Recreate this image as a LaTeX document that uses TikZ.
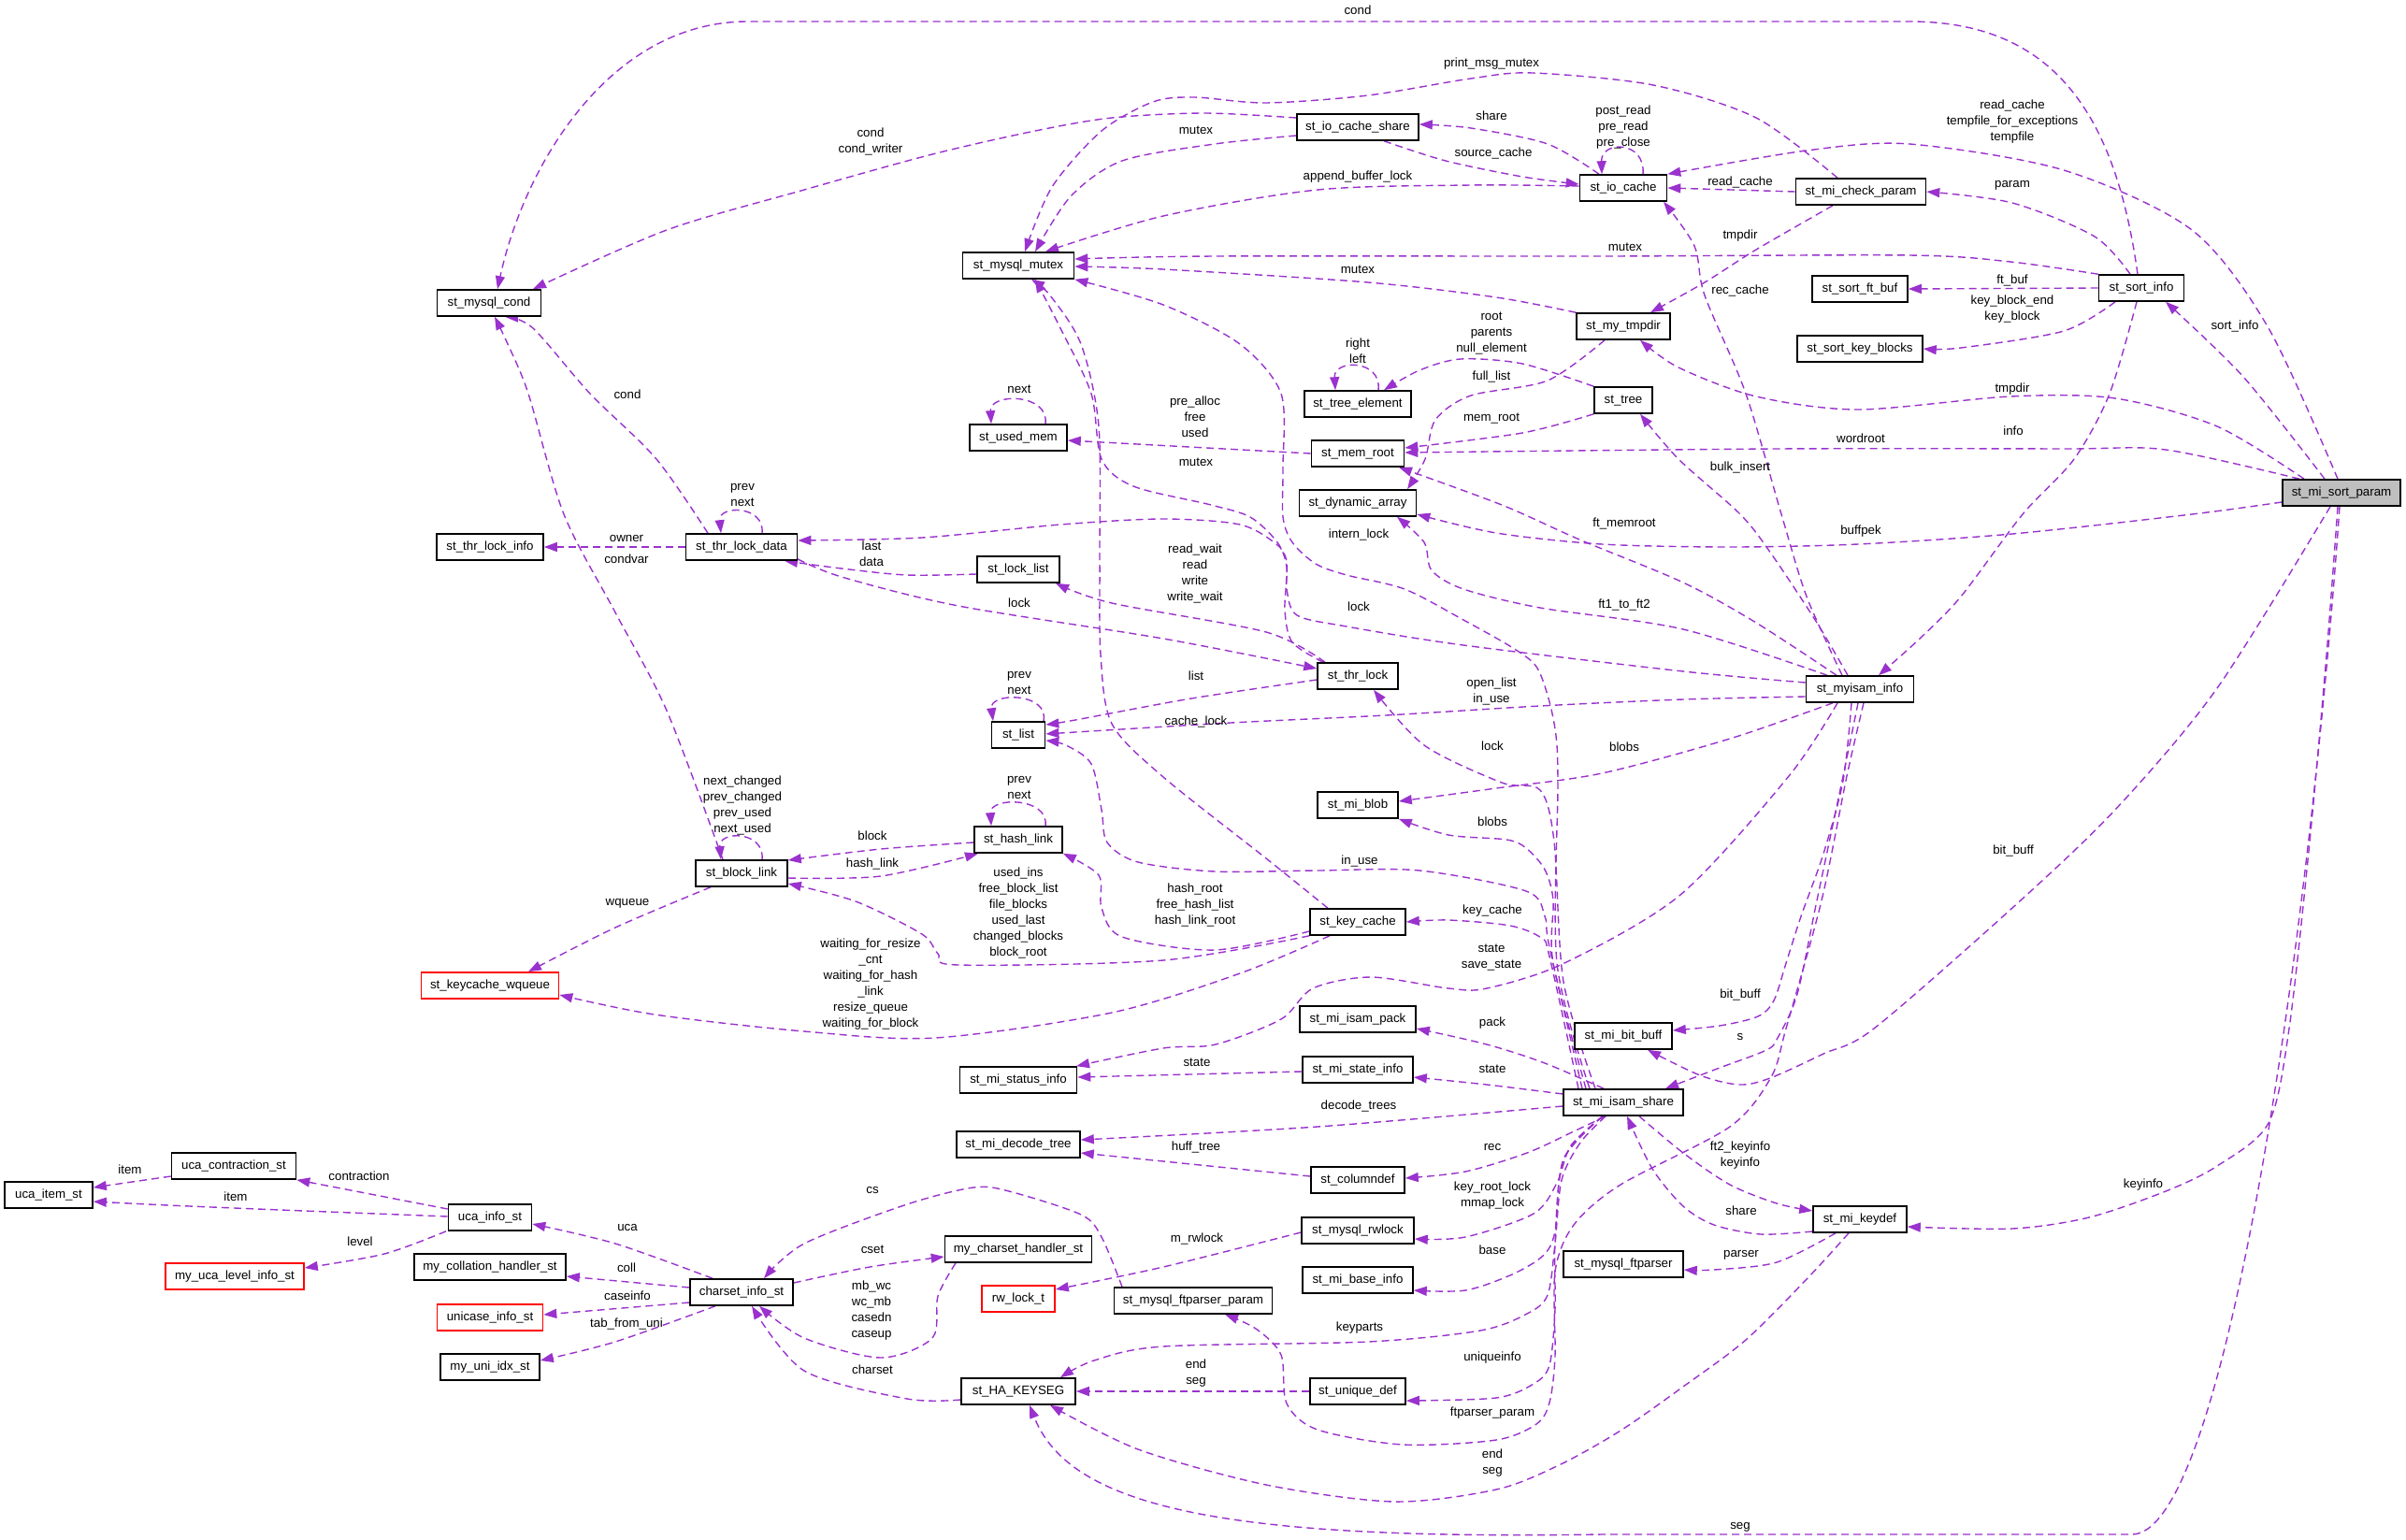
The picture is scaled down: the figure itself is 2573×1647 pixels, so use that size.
\documentclass[tikz,border=0pt]{standalone}
\usepackage{fontspec}
\setmainfont{Liberation Sans}
\usetikzlibrary{arrows.meta}
\definecolor{ec}{HTML}{9A32CD}
\definecolor{gr}{HTML}{BFBFBF}
\newcommand\dgfont{\fontsize{13.3bp}{17bp}\selectfont}
\pgfdeclarelayer{bg}
\pgfsetlayers{bg,main}
\tikzset{
  box/.style={draw=black, line width=1.6bp, fill=white, minimum height=28bp, inner sep=0pt, font=\dgfont, text height=10bp, text depth=3bp},
  redbox/.style={box, draw=red},
  lbl/.style={font=\dgfont, inner sep=0pt, text height=10bp, text depth=3bp},
  mlbl/.style={font=\dgfont, inner sep=0pt, align=center},
  edge/.style={draw=ec, line width=1.4bp, dash pattern=on 8bp off 5bp, -{Triangle[length=14bp,width=10bp]}}
}
\newcommand\dedge[1]{\draw[edge] plot[smooth,tension=0.5] coordinates {#1};}
\begin{document}
\begin{tikzpicture}[x=1bp,y=-1bp]
\path[use as bounding box] (0,0) rectangle (2573,1647);
% nodes
\node[box,fill=gr,minimum width=126bp] (sortparam) at (2504,527) {st\_mi\_sort\_param};
\node[box,minimum width=91bp] (sortinfo) at (2290,308) {st\_sort\_info};
\node[box,minimum width=139bp] (checkparam) at (1990,205) {st\_mi\_check\_param};
\node[box,minimum width=102bp] (sortftbuf) at (1989,309) {st\_sort\_ft\_buf};
\node[box,minimum width=134bp] (sortkeyblocks) at (1989,373) {st\_sort\_key\_blocks};
\node[box,minimum width=93bp] (iocache) at (1736,201) {st\_io\_cache};
\node[box,minimum width=130bp] (iocacheshare) at (1452,136) {st\_io\_cache\_share};
\node[box,minimum width=119bp] (mutex) at (1089,284) {st\_mysql\_mutex};
\node[box,minimum width=111bp] (cond) at (523,324) {st\_mysql\_cond};
\node[box,minimum width=100bp] (tmpdir) at (1736,349) {st\_my\_tmpdir};
\node[box,minimum width=114bp] (treeelem) at (1452,432) {st\_tree\_element};
\node[box,minimum width=62bp] (tree) at (1736,428) {st\_tree};
\node[box,minimum width=104bp] (usedmem) at (1089,468) {st\_used\_mem};
\node[box,minimum width=99bp] (memroot) at (1452,485) {st\_mem\_root};
\node[box,minimum width=125bp] (dynarray) at (1452,538) {st\_dynamic\_array};
\node[box,minimum width=114bp] (thrlockinfo) at (524,585) {st\_thr\_lock\_info};
\node[box,minimum width=119bp] (thrlockdata) at (793,585) {st\_thr\_lock\_data};
\node[box,minimum width=88bp] (locklist) at (1089,609) {st\_lock\_list};
\node[box,minimum width=86bp] (thrlock) at (1452,723) {st\_thr\_lock};
\node[box,minimum width=115bp] (myisaminfo) at (1989,737) {st\_myisam\_info};
\node[box,minimum width=57bp] (stlist) at (1089,786) {st\_list};
\node[box,minimum width=86bp] (miblob) at (1452,861) {st\_mi\_blob};
\node[box,minimum width=94bp] (hashlink) at (1089,898) {st\_hash\_link};
\node[box,minimum width=98bp] (blocklink) at (793,934) {st\_block\_link};
\node[box,minimum width=102bp] (keycache) at (1452,986) {st\_key\_cache};
\node[redbox,minimum width=147bp] (wqueue) at (524,1054) {st\_keycache\_wqueue};
\node[box,minimum width=124bp] (isampack) at (1452,1090) {st\_mi\_isam\_pack};
\node[box,minimum width=104bp] (bitbuff) at (1736,1108) {st\_mi\_bit\_buff};
\node[box,minimum width=125bp] (statusinfo) at (1089,1155) {st\_mi\_status\_info};
\node[box,minimum width=118bp] (stateinfo) at (1452,1144) {st\_mi\_state\_info};
\node[box,minimum width=128bp] (isamshare) at (1736,1179) {st\_mi\_isam\_share};
\node[box,minimum width=132bp] (decodetree) at (1089,1224) {st\_mi\_decode\_tree};
\node[box,minimum width=100bp] (columndef) at (1452,1262) {st\_columndef};
\node[box,minimum width=120bp] (rwlock) at (1452,1316) {st\_mysql\_rwlock};
\node[box,minimum width=157bp] (charsethandler) at (1089,1336) {my\_charset\_handler\_st};
\node[redbox,minimum width=78bp] (rwlockt) at (1089,1389) {rw\_lock\_t};
\node[box,minimum width=169bp] (ftparserparam) at (1276,1391) {st\_mysql\_ftparser\_param};
\node[box,minimum width=118bp] (baseinfo) at (1452,1369) {st\_mi\_base\_info};
\node[box,minimum width=128bp] (ftparser) at (1736,1352) {st\_mysql\_ftparser};
\node[box,minimum width=122bp] (keyseg) at (1089,1488) {st\_HA\_KEYSEG};
\node[box,minimum width=102bp] (uniquedef) at (1452,1488) {st\_unique\_def};
\node[box,minimum width=100bp] (keydef) at (1989,1304) {st\_mi\_keydef};
\node[box,minimum width=133bp] (ucacontraction) at (250,1247) {uca\_contraction\_st};
\node[box,minimum width=94bp] (ucaitem) at (52,1278) {uca\_item\_st};
\node[box,minimum width=89bp] (ucainfo) at (524,1302) {uca\_info\_st};
\node[redbox,minimum width=148bp] (ucalevel) at (251,1365) {my\_uca\_level\_info\_st};
\node[box,minimum width=162bp] (collhandler) at (524,1355) {my\_collation\_handler\_st};
\node[box,minimum width=110bp] (charsetinfo) at (793,1382) {charset\_info\_st};
\node[redbox,minimum width=113bp] (unicase) at (524,1409) {unicase\_info\_st};
\node[box,minimum width=106bp] (uniidx) at (524,1462) {my\_uni\_idx\_st};
% edges
\begin{pgfonlayer}{bg}
\draw[edge] ([xshift=-4bp]sortinfo.north) .. controls (2262,120) and (2195,23) .. (2042,23) -- (800,23) .. controls (650,23) and (560,180) .. ([xshift=9bp]cond.north);
\dedge{([xshift=-4bp]sortparam.north) (2426,351) (2344,246) (2207,182) (2042,154) (1932,161) (iocache.north east)}
\dedge{([xshift=-12bp]sortinfo.north) (2240,253) (2152,217) (checkparam.east)}
\dedge{(sortinfo.north west) (2150,280) (2042,273) (1713,274) (1300,274) ([yshift=7bp]mutex.east)}
\dedge{(tmpdir.north west) (1600,318) (1463,302) (1244,288) ([yshift=-1bp]mutex.east)}
\draw[edge] (sortinfo.west) -- (sortftbuf.east);
\dedge{([xshift=-28bp]sortinfo.south) (2207,354) (2097,372) (sortkeyblocks.east)}
\dedge{([xshift=-18bp]sortparam.north) (2399,403) ([xshift=26bp]sortinfo.south)}
\dedge{([xshift=-40bp]sortparam.north) (2371,456) (2262,426) (2150,424) (1987,438) (1878,424) (1795,393) ([xshift=18bp]tmpdir.south)}
\dedge{([xshift=-30bp]checkparam.south) (1878,267) (1823,302) ([xshift=29bp]tmpdir.north)}
\draw[edge] (checkparam.west) -- (iocache.east);
\dedge{([xshift=-25bp]checkparam.north) (1878,126) (1768,91) (1639,78) (1573,84) (1463,102) (1354,110) (1277,104) (1233,109) (1178,140) (1125,200) ([xshift=7bp]mutex.north)}
\dedge{([yshift=-9bp]iocacheshare.west) (1299,154) (1200,172) (1145,210) ([xshift=18bp]mutex.north)}
\dedge{([yshift=10bp]iocacheshare.west) (1288,121) (1189,126) (1107,140) (997,165) (860,203) (713,246) ([xshift=47bp]cond.north)}
\dedge{([xshift=-26bp]iocache.north) (1655,154) (1573,137) ([yshift=3bp]iocacheshare.east)}
\dedge{([xshift=28bp]iocacheshare.south) (1546,172) (1628,189) ([yshift=4bp]iocache.west)}
\dedge{([yshift=2bp]iocache.west) (1573,198) (1409,203) (1244,231) ([xshift=29bp]mutex.north)}
\draw[edge] ([xshift=21bp]iocache.north) .. controls (1760,150) and (1712,150) .. ([xshift=-23bp]iocache.north);
\dedge{([xshift=-19bp]myisaminfo.north) (1932,638) (1905,550) (1867,421) (1823,316) (1812,263) ([xshift=43bp]iocache.south)}
\draw[edge] ([xshift=22bp]treeelem.north) .. controls (1478,384) and (1426,384) .. ([xshift=-24bp]treeelem.north);
\dedge{(tree.north west) (1628,389) (1562,384) (1518,396) ([xshift=28bp]treeelem.north)}
\dedge{(tree.south west) (1628,463) ([yshift=6bp]memroot.east)}
\dedge{([xshift=-20bp]tmpdir.south) (1655,407) (1573,423) (1535,449) (1524,491) ([xshift=53bp]dynarray.north)}
\draw[edge] ([xshift=29bp]usedmem.north) .. controls (1122,420) and (1058,420) .. ([xshift=-29bp]usedmem.north);
\draw[edge] (memroot.west) -- ([yshift=-3bp]usedmem.east);
\dedge{([xshift=-45bp]sortparam.north) (2316,481) (2207,480) (1900,480) ([yshift=1bp]memroot.east)}
\dedge{([xshift=-5bp]sortinfo.south) (2256,421) (2218,491) (2163,550) (2097,638) (2053,683) ([xshift=20bp]myisaminfo.north)}
\dedge{([yshift=-10bp]sortparam.west) (2344,550) (2152,571) (1987,582) (1850,585) (1713,582) (1600,570) ([yshift=-12bp]dynarray.east)}
\dedge{([xshift=-25bp]myisaminfo.north) (1878,666) (1800,623) (1689,577) (1606,540) ([xshift=44bp]memroot.south)}
\dedge{([xshift=-35bp]myisaminfo.north) (1800,673) (1647,650) (1565,630) (1531,610) (1523,580) ([xshift=42bp]dynarray.south)}
\draw[edge] ([xshift=22bp]thrlockdata.north) .. controls (818,540) and (768,540) .. ([xshift=-22bp]thrlockdata.north);
\dedge{([xshift=-36bp]thrlockdata.north) (702,491) (631,421) (570,351) ([xshift=17bp]cond.south)}
\dedge{([xshift=-20bp]blocklink.north) (713,760) (658,655) (603,550) (565,421) (543,368) ([xshift=6bp]cond.south)}
\draw[edge] (thrlockdata.west) -- (thrlockinfo.east);
\draw[edge] ([xshift=22bp]blocklink.north) .. controls (818,888) and (768,888) .. ([xshift=-22bp]blocklink.north);
\dedge{([xshift=-33bp]blocklink.south) (658,992) ([xshift=41bp]wqueue.north)}
\dedge{([xshift=-30bp]keycache.south) (1326,1041) (1189,1083) (1000,1110) (860,1103) (700,1085) ([yshift=-10bp]wqueue.east)}
\dedge{(keycache.south west) (1244,1027) (1025,1032) (1003,1020) (986,999) (915,964) ([yshift=-11bp]blocklink.east)}
\dedge{([yshift=-10bp]keycache.west) (1299,1016) (1200,1002) (1178,971) (1175,936) (hashlink.south east)}
\draw[edge] ([xshift=29bp]hashlink.north) .. controls (1122,852) and (1058,852) .. ([xshift=-29bp]hashlink.north);
\dedge{([yshift=-3bp]hashlink.west) (942,908) ([yshift=14bp]blocklink.east)}
\dedge{([yshift=-5bp]blocklink.east) (942,937) ([xshift=-43bp]hashlink.south)}
\draw[edge] ([xshift=27bp]stlist.north) .. controls (1122,740) and (1058,740) .. ([xshift=-27bp]stlist.north);
\dedge{([yshift=-4bp]thrlock.west) (1274,747) (1150,770) ([yshift=11bp]stlist.east)}
\dedge{([yshift=-8bp]myisaminfo.west) (1800,748) (1647,755) (1482,765) (1316,773) (1150,783) ([yshift=1bp]stlist.east)}
\dedge{([xshift=-32bp]keycache.north) (1354,918) (1244,831) (1189,774) (1177,700) (1176,600) (1175,456) (1156,368) (1123,316) ([xshift=14bp]mutex.south)}
\dedge{([yshift=7bp]myisaminfo.west) (1800,718) (1565,690) (1440,670) (1387,658) (1376,630) (1376,600) (1365,582) (1326,561) (1244,555) (1134,561) (986,575) ([yshift=7bp]thrlockdata.east)}
\dedge{([yshift=-13bp]thrlockdata.east) (900,617) (1025,648) (1244,683) ([yshift=8bp]thrlock.west)}
\dedge{([yshift=-5bp]locklist.west) (970,615) (900,608) ([xshift=46bp]thrlockdata.south)}
\dedge{([xshift=-35bp]thrlock.north) (1354,676) (1189,645) ([xshift=40bp]locklist.south)}
\dedge{([xshift=-37bp]thrlock.north) (1382,687) (1374,653) (1376,607) (1366,580) (1337,553) (1295,540) (1212,520) (1178,491) (1167,421) (1134,351) ([xshift=18bp]mutex.south)}
\dedge{([xshift=-36bp]isamshare.north) (1665,1030) (1666,840) (1664,787) (1656,747) (1643,713) (1618,693) (1565,663) (1502,630) (1440,615) (1407,603) (1382,580) (1372,553) (1372,500) (1370,421) (1326,368) (1244,326) (mutex.south east)}
\dedge{([xshift=-30bp]isamshare.north) (1672,1050) (1662,900) (1647,845) (1606,837) (1523,797) ([xshift=17bp]thrlock.south)}
\dedge{([xshift=-29bp]myisaminfo.south) (1850,790) (1713,827) (1600,843) ([yshift=4bp]miblob.east)}
\dedge{([xshift=-40bp]isamshare.north) (1661,1030) (1661,963) (1652,930) (1632,907) (1611,898) (1549,893) (miblob.south east)}
\dedge{([xshift=-44bp]isamshare.north) (1657,1013) (1652,980) (1632,953) (1518,931) (1409,931) (1299,932) (1217,922) (1184,901) (1178,866) (1167,817) (1140,797) ([yshift=-6bp]stlist.east)}
\dedge{([xshift=-48bp]isamshare.north) (1657,1023) (1648,1003) (1615,990) (1549,984) (keycache.east)}
\dedge{([xshift=-24bp]myisaminfo.south) (1913,830) (1797,957) (1673,1030) (1590,1057) (1549,1057) (1466,1045) (1404,1057) (1370,1090) (1300,1117) (1244,1121) ([xshift=62bp]statusinfo.north)}
\dedge{([xshift=-21bp]isamshare.north) (1652,1137) (1590,1117) ([yshift=-10bp]isampack.east)}
\dedge{([yshift=9bp]isamshare.west) (1590,1160) ([yshift=-8bp]stateinfo.east)}
\dedge{([yshift=-4bp]isamshare.west) (1409,1205) ([yshift=5bp]decodetree.east)}
\dedge{([xshift=-9bp]myisaminfo.south) (1971,835) (1950,913) (1926,980) (1910,1030) (1897,1070) (1880,1087) (1839,1097) ([yshift=6bp]bitbuff.east)}
\dedge{([xshift=-12bp]sortparam.south) (2371,736) (2262,866) (2152,971) (2004,1100) (1950,1127) (1893,1153) (1860,1160) (1818,1150) ([xshift=26bp]bitbuff.south)}
\dedge{([xshift=-2bp]myisaminfo.south) (1971,830) (1943,963) (1922,1063) (1901,1110) (1889,1123) (1839,1142) ([xshift=45bp]isamshare.north)}
\dedge{([xshift=4bp]myisaminfo.south) (1975,830) (1948,963) (1910,1100) (1894,1152) (1850,1205) (1733,1267) (1683,1310) (1663,1360) (1663,1450) (1657,1500) (1643,1523) (1600,1540) (1500,1545) (1409,1529) (1376,1501) (1370,1449) (1343,1421) ([xshift=34bp]ftparserparam.south)}
\dedge{([xshift=-19bp]isamshare.south) (1690,1222) (1670,1262) (1663,1330) (1655,1385) (1633,1405) (1583,1423) (1463,1435) (1244,1440) (1170,1455) ([xshift=45bp]keyseg.north)}
\dedge{([xshift=-19bp]isamshare.south) (1683,1210) (1633,1233) (1567,1253) ([yshift=2bp]columndef.east)}
\dedge{([xshift=-22bp]isamshare.south) (1680,1225) (1665,1265) (1640,1298) (1567,1323) ([yshift=-9bp]rwlock.east)}
\dedge{([xshift=-22bp]isamshare.south) (1672,1240) (1663,1317) (1650,1343) (1617,1363) (1567,1380) ([yshift=-11bp]baseinfo.east)}
\dedge{([xshift=-22bp]isamshare.south) (1672,1240) (1663,1330) (1663,1400) (1657,1460) (1640,1480) (1600,1495) ([yshift=-10bp]uniquedef.east)}
\dedge{([yshift=-13bp]keydef.west) (1883,1320) (1833,1310) (1800,1290) (1767,1250) ([xshift=4bp]isamshare.south)}
\dedge{([xshift=17bp]isamshare.south) (1800,1233) (1850,1267) (1900,1287) ([yshift=9bp]keydef.west)}
\dedge{([xshift=-26bp]keydef.south) (1900,1350) (1833,1358) ([yshift=-6bp]ftparser.east)}
\dedge{([xshift=-4bp]sortparam.south) (2488,700) (2470,900) (2448,1100) (2426,1201) (2371,1247) (2316,1274) (2234,1302) (2152,1314) ([yshift=-8bp]keydef.east)}
\draw[edge] ([xshift=-2bp]sortparam.south) .. controls (2470,1000) and (2380,1641) .. (2280,1641) -- (1713,1641) .. controls (1320,1647) and (1145,1615) .. ([xshift=12bp]keyseg.south);
\dedge{([xshift=-12bp]keydef.south) (1933,1367) (1867,1433) (1800,1483) (1733,1530) (1667,1567) (1600,1593) (1491,1606) (1354,1588) (1217,1550) ([xshift=34bp]keyseg.south)}
\draw[edge] (uniquedef.west) -- (keyseg.east);
\draw[edge] ([yshift=4bp]columndef.west) -- ([yshift=-9bp]decodetree.east);
\dedge{([yshift=-2bp]rwlock.west) (1244,1355) ([yshift=10bp]rwlockt.east)}
\draw[edge] ([yshift=-2bp]stateinfo.west) -- ([yshift=3bp]statusinfo.east);
\dedge{([xshift=-76bp]ftparserparam.north) (1178,1323) (1156,1299) (1079,1274) (1041,1270) (970,1288) (860,1330) ([xshift=24bp]charsetinfo.north)}
\dedge{([yshift=10bp]charsetinfo.east) (930,1355) ([yshift=-8bp]charsethandler.west)}
\dedge{([xshift=-67bp]charsethandler.south) (1003,1386) (997,1431) (942,1452) (860,1431) ([xshift=19bp]charsetinfo.south)}
\dedge{([yshift=-9bp]keyseg.west) (970,1496) (860,1466) ([xshift=11bp]charsetinfo.south)}
\dedge{([xshift=-31bp]charsetinfo.north) (658,1330) ([yshift=-7bp]ucainfo.east)}
\draw[edge] ([yshift=5bp]charsetinfo.west) -- ([yshift=-10bp]collhandler.east);
\draw[edge] ([yshift=-11bp]charsetinfo.west) -- ([yshift=3bp]unicase.east);
\dedge{([xshift=-28bp]charsetinfo.south) (658,1435) ([yshift=7bp]uniidx.east)}
\draw[edge] ([yshift=9bp]ucainfo.west) -- (ucacontraction.south east);
\dedge{([yshift=1bp]ucainfo.west) (300,1294) (180,1289) ([yshift=-7bp]ucaitem.east)}
\draw[edge] ([yshift=-11bp]ucacontraction.west) -- ([yshift=8bp]ucaitem.east);
\dedge{([xshift=-47bp]ucainfo.south) (411,1341) ([yshift=9bp]ucalevel.east)}
\dedge{([xshift=-13bp]myisaminfo.north) (1943,666) (1894,592) (1861,550) (1795,491) ([xshift=18bp]tree.south)}
\end{pgfonlayer}
% labels
\node[lbl] (l1) at (1452,12) {cond};
\node[mlbl] (l2) at (2152,130) {read\_cache\\tempfile\_for\_exceptions\\tempfile};
\node[lbl] (l3) at (2152,197) {param};
\node[lbl] (l4) at (1738,265) {mutex};
\node[lbl] (l5) at (1452,289) {mutex};
\node[lbl] (l6) at (2152,300) {ft\_buf};
\node[mlbl] (l7) at (2152,331) {key\_block\_end\\key\_block};
\node[lbl] (l8) at (2390,349) {sort\_info};
\node[lbl] (l9) at (2152,416) {tmpdir};
\node[lbl] (l10) at (1861,252) {tmpdir};
\node[lbl] (l11) at (1861,195) {read\_cache};
\node[lbl] (l12) at (1595,68) {print\_msg\_mutex};
\node[lbl] (l13) at (1279,140) {mutex};
\node[mlbl] (l14) at (931,152) {cond\\cond\_writer};
\node[lbl] (l15) at (1595,125) {share};
\node[lbl] (l16) at (1597,164) {source\_cache};
\node[lbl] (l17) at (1452,189) {append\_buffer\_lock};
\node[mlbl] (l18) at (1736,136) {post\_read\\pre\_read\\pre\_close};
\node[lbl] (l19) at (1861,311) {rec\_cache};
\node[mlbl] (l20) at (1452,375) {right\\left};
\node[mlbl] (l21) at (1595,357) {root\\parents\\null\_element};
\node[lbl] (l22) at (1595,447) {mem\_root};
\node[lbl] (l23) at (1595,403) {full\_list};
\node[lbl] (l24) at (1090,417) {next};
\node[mlbl] (l25) at (1278,446) {pre\_alloc\\free\\used};
\node[lbl] (l26) at (1990,470) {wordroot};
\node[lbl] (l27) at (2153,462) {info};
\node[lbl] (l28) at (1990,568) {buffpek};
\node[lbl] (l29) at (1737,560) {ft\_memroot};
\node[lbl] (l30) at (1737,647) {ft1\_to\_ft2};
\node[mlbl] (l31) at (794,529) {prev\\next};
\node[lbl] (l32) at (671,423) {cond};
\node[lbl] (l33) at (670,599) {condvar};
\node[lbl] (l34) at (670,576) {owner};
\node[mlbl] (l35) at (794,861) {next\_changed\\prev\_changed\\prev\_used\\next\_used};
\node[lbl] (l36) at (671,965) {wqueue};
\node[mlbl] (l37) at (931,1053) {waiting\_for\_resize\\\_cnt\\waiting\_for\_hash\\\_link\\resize\_queue\\waiting\_for\_block};
\node[mlbl] (l38) at (1089,976) {used\_ins\\free\_block\_list\\file\_blocks\\used\_last\\changed\_blocks\\block\_root};
\node[mlbl] (l39) at (1278,968) {hash\_root\\free\_hash\_list\\hash\_link\_root};
\node[mlbl] (l40) at (1090,842) {prev\\next};
\node[lbl] (l41) at (933,895) {block};
\node[lbl] (l42) at (933,924) {hash\_link};
\node[mlbl] (l43) at (1090,730) {prev\\next};
\node[lbl] (l44) at (1279,724) {list};
\node[mlbl] (l45) at (1595,739) {open\_list\\in\_use};
\node[lbl] (l46) at (1279,772) {cache\_lock};
\node[lbl] (l47) at (1453,650) {lock};
\node[lbl] (l48) at (1090,646) {lock};
\node[mlbl] (l49) at (932,592) {last\\data};
\node[mlbl] (l50) at (1278,613) {read\_wait\\read\\write\\write\_wait};
\node[lbl] (l51) at (1279,495) {mutex};
\node[lbl] (l52) at (1453,572) {intern\_lock};
\node[lbl] (l53) at (1596,799) {lock};
\node[lbl] (l54) at (1737,800) {blobs};
\node[lbl] (l55) at (1596,880) {blobs};
\node[lbl] (l56) at (1454,921) {in\_use};
\node[lbl] (l57) at (1596,974) {key\_cache};
\node[mlbl] (l58) at (1595,1024) {state\\save\_state};
\node[lbl] (l59) at (1596,1094) {pack};
\node[lbl] (l60) at (1596,1144) {state};
\node[lbl] (l61) at (1453,1183) {decode\_trees};
\node[lbl] (l62) at (1861,1064) {bit\_buff};
\node[lbl] (l63) at (2153,910) {bit\_buff};
\node[lbl] (l64) at (1861,1109) {s};
\node[lbl] (l65) at (1596,1511) {ftparser\_param};
\node[lbl] (l66) at (1454,1420) {keyparts};
\node[lbl] (l67) at (1596,1227) {rec};
\node[mlbl] (l68) at (1596,1279) {key\_root\_lock\\mmap\_lock};
\node[lbl] (l69) at (1596,1338) {base};
\node[lbl] (l70) at (1596,1452) {uniqueinfo};
\node[lbl] (l71) at (1862,1296) {share};
\node[mlbl] (l72) at (1861,1236) {ft2\_keyinfo\\keyinfo};
\node[lbl] (l73) at (1862,1341) {parser};
\node[lbl] (l74) at (2292,1267) {keyinfo};
\node[lbl] (l75) at (1861,1632) {seg};
\node[mlbl] (l76) at (1596,1565) {end\\seg};
\node[mlbl] (l77) at (1279,1469) {end\\seg};
\node[lbl] (l78) at (1279,1227) {huff\_tree};
\node[lbl] (l79) at (1280,1325) {m\_rwlock};
\node[lbl] (l80) at (1280,1137) {state};
\node[lbl] (l81) at (933,1273) {cs};
\node[lbl] (l82) at (933,1337) {cset};
\node[mlbl] (l83) at (932,1402) {mb\_wc\\wc\_mb\\casedn\\caseup};
\node[lbl] (l84) at (933,1466) {charset};
\node[lbl] (l85) at (671,1313) {uca};
\node[lbl] (l86) at (670,1357) {coll};
\node[lbl] (l87) at (671,1387) {caseinfo};
\node[lbl] (l88) at (670,1416) {tab\_from\_uni};
\node[lbl] (l89) at (384,1259) {contraction};
\node[lbl] (l90) at (252,1281) {item};
\node[lbl] (l91) at (139,1252) {item};
\node[lbl] (l92) at (385,1329) {level};
\node[lbl] (l93) at (1861,500) {bulk\_insert};
\end{tikzpicture}
\end{document}
